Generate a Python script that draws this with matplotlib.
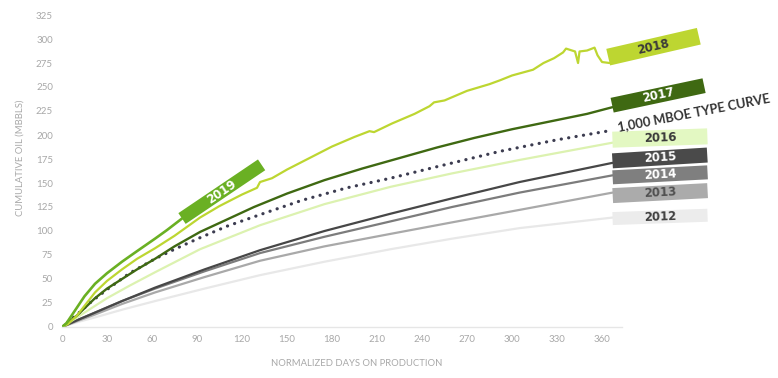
import matplotlib
matplotlib.use("Agg")
import matplotlib.pyplot as plt
from matplotlib.patches import Rectangle
from matplotlib.transforms import Affine2D

# ---- data (days on production, cumulative oil MBBLS) ----
d2019 = [0, 3, 9, 15, 22, 30, 40, 50, 62, 70, 80]
v2019 = [0, 4, 18, 32, 45, 56, 68, 79, 92, 101, 113]

d2018 = [0, 4, 10, 16, 22, 30, 40, 50, 62, 75, 92, 105, 120, 130, 132, 140, 150, 165,
         180, 195, 205, 208, 220, 235, 245, 248, 255, 270, 285, 292, 300, 314, 321,
         328, 334, 336, 342, 344, 345, 350, 355, 357, 360, 365]
v2018 = [0, 3, 12, 24, 36, 48, 60, 71, 82, 95, 114, 126, 138, 145, 151, 155, 164, 176,
         188, 198, 204, 203, 212, 222, 230, 234, 236, 246, 253, 257, 262, 268, 275,
         280, 286, 290, 287, 275, 287, 288, 291, 283, 276, 275]

d2017 = [0, 5, 10, 16, 22, 30, 40, 50, 62, 75, 92, 110, 128, 150, 175, 200, 225, 250,
         275, 300, 325, 350, 367]
v2017 = [0, 6, 12, 21, 30, 40, 50, 60, 71, 84, 99, 112, 125, 139, 153, 165, 176, 187,
         197, 206, 214, 222, 229]

d_type = [0, 10, 20, 30, 45, 62, 75, 92, 110, 132, 160, 190, 219, 250, 292, 330, 367]
v_type = [0, 13, 27, 39, 56, 71, 81, 93, 105, 117, 132, 145, 155, 167, 183, 195, 205]

d2016 = [0, 10, 20, 30, 45, 62, 92, 132, 175, 219, 260, 305, 367]
v2016 = [0, 10, 20, 30, 43, 57, 81, 106, 128, 146, 160, 174, 192]

d_old = [0, 10, 22, 40, 62, 95, 132, 175, 219, 260, 305, 367]
v2015 = [0, 7, 15, 27, 41, 60, 80, 100, 118, 134, 151, 171]
v2014 = [0, 7, 15, 27, 40, 58, 77, 94, 110, 125, 140, 158]
v2013 = [0, 6, 13, 24, 36, 52, 69, 84, 97, 109, 122, 140]
v2012 = [0, 5, 10, 18, 27, 40, 54, 68, 81, 92, 103, 114]

y_ticks = list(range(0, 326, 25))
x_ticks = list(range(0, 361, 30))

GRAY_TXT = "#a8a8a8"

fig = plt.figure(figsize=(7.78, 3.78), dpi=100, facecolor="white")
ax = fig.add_axes([62/778, 51/378, 560/778, 312/378])
ax.set_xlim(0, 373.3)
ax.set_ylim(0, 325)

# older vintages first (drawn underneath)
ax.plot(d_old, v2012, color="#e8e8e8", lw=1.6, solid_capstyle="round")
ax.plot(d_old, v2013, color="#a9a9a9", lw=1.6, solid_capstyle="round")
ax.plot(d_old, v2014, color="#7c7c7c", lw=1.6, solid_capstyle="round")
ax.plot(d_old, v2015, color="#474747", lw=1.6, solid_capstyle="round")
ax.plot(d2016, v2016, color="#dcf2b0", lw=1.6, solid_capstyle="round")
ax.plot(d_type, v_type, color="#3c3c50", lw=2.3, linestyle=(0, (0.05, 2.3)),
        dash_capstyle="round")
ax.plot(d2017, v2017, color="#3f6912", lw=1.7, solid_capstyle="round")
ax.plot(d2018, v2018, color="#bdd631", lw=1.6, solid_capstyle="round")
ax.plot(d2019, v2019, color="#6ab023", lw=1.9, solid_capstyle="round")

ax.set_xticks(x_ticks)
ax.set_yticks(y_ticks)
ax.tick_params(length=0, labelsize=7, labelcolor=GRAY_TXT)
ax.tick_params(axis="y", pad=6.5)
ax.tick_params(axis="x", pad=6)
for lab in ax.get_xticklabels() + ax.get_yticklabels():
    lab.set_family("Lato")
for s in ["top", "right", "left"]:
    ax.spines[s].set_visible(False)
ax.spines["bottom"].set_color("#e6e6e6")
ax.spines["bottom"].set_linewidth(1.0)

fig.text(357/778, 1 - 364/378, "NORMALIZED DAYS ON PRODUCTION", ha="center", va="center",
         fontsize=6.8, color=GRAY_TXT, family="Lato")
fig.text(20/778, 1 - 158/378, "CUMULATIVE OIL (MBBLS)", ha="center", va="center",
         rotation=90, fontsize=6.8, color=GRAY_TXT, family="Lato")


def tag(x, y, text, fc, tc, ang, w, h, dy=0):
    px, py = ax.transData.transform((x, y))
    tr = Affine2D().rotate_deg(ang).translate(px, py)
    ax.add_patch(Rectangle((0, dy - h / 2), w, h, transform=tr, fc=fc, ec="none",
                           zorder=5, clip_on=False))
    ax.text(w / 2, dy, text, transform=tr, rotation=ang, rotation_mode="anchor",
            ha="center", va="center", fontsize=8.5, fontweight="bold", color=tc,
            family="DejaVu Sans", zorder=6, clip_on=False)


tag(d2019[-1], v2019[-1], "2019", "#6ab023", "white", 34, 96, 13)
tag(d2018[-1], v2018[-1], "2018", "#bdd631", "#3a3a3a", 13, 93, 17, 6)
tag(d2017[-1], v2017[-1], "2017", "#3f6912", "white", 12, 94, 15, 2)
tag(d2016[-1], v2016[-1], "2016", "#e3f8c2", "#3a3a3a", 2, 95, 16, 3)
tag(d_old[-1], v2015[-1], "2015", "#4a4a4a", "white", 3.5, 95, 15, 2)
tag(d_old[-1], v2014[-1], "2014", "#7f7f7f", "white", 3, 95, 14, -2)
tag(d_old[-1], v2013[-1], "2013", "#ababab", "#505050", 3, 95, 15, -3)
tag(d_old[-1], v2012[-1], "2012", "#ececec", "#404040", 2, 95, 13, -1)

px, py = ax.transData.transform((d_type[-1], v_type[-1]))
ax.text(px + 5, py + 3, "1,000 MBOE TYPE CURVE", transform=None, rotation=11,
        rotation_mode="anchor", ha="left", va="center", fontsize=9.3, fontweight="bold",
        color="#333333", family="Lato", zorder=6, clip_on=False)

fig.savefig("out.png", dpi=100)
